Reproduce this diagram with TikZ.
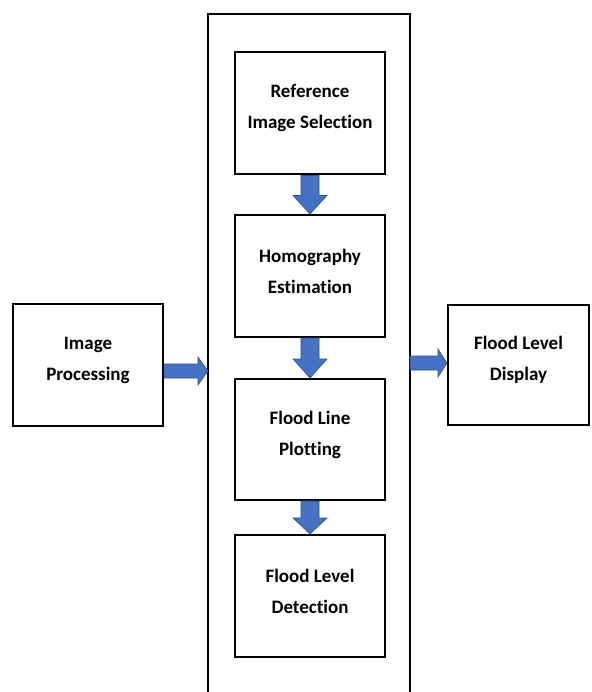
\documentclass[tikz,border=0pt]{standalone}
\usepackage{fontspec}
\setmainfont{Carlito}[Ligatures=NoCommon]
\usetikzlibrary{calc}
\definecolor{arrfill}{HTML}{4472C4}
\definecolor{arrline}{HTML}{2F528F}
\tikzset{
  blk/.style={draw=black, line width=2pt, fill=white, minimum width=150pt, minimum height=122pt, inner sep=0pt},
  lbl/.style={font=\fontsize{19}{31}\selectfont\bfseries, align=center, yshift=5pt, inner sep=0pt},
  barrow/.style={fill=arrfill, draw=arrline, line width=0.6pt, line join=miter},
}
\begin{document}
\begin{tikzpicture}[x=1pt, y=-1pt]
\useasboundingbox (0,0) rectangle (591,692);
% outer container (open at the bottom)
\coordinate (oBL) at (208,692);
\coordinate (oTL) at (208,14);
\coordinate (oTR) at (410,14);
\coordinate (oBR) at (410,692);
\draw[line width=1.6pt] (oBL) -- (oTL) -- (oTR) -- (oBR);
\coordinate (oL) at (208,371);
\coordinate (oR) at (410,363);

\node[blk, label={[lbl]center:Reference\\Image Selection}] (b1) at (310,113.5) {};
\node[blk, label={[lbl]center:Homography\\Estimation}] (b2) at (310,276) {};
\node[blk, minimum height=121pt, label={[lbl]center:Flood Line\\Plotting}] (b3) at (310,439.5) {};
\node[blk, label={[lbl]center:Flood Level\\Detection}] (b4) at (310,596) {};
\node[blk, label={[lbl]center:Image\\Processing}] (ip) at (88,365) {};
\node[blk, minimum width=141pt, minimum height=120pt, label={[lbl]center:Flood Level\\Display}] (fd) at (518.5,365) {};

% vertical block arrows
\foreach \a/\b/\s in {b1/b2/20, b2/b3/21, b3/b4/17}{
  \draw[barrow] ($(\a.south)+(-9,0)$) -- ($(\a.south)+(9,0)$) -- ($(\a.south)+(9,\s)$)
    -- ($(\a.south)+(17,\s)$) -- (\b.north) -- ($(\a.south)+(-17,\s)$)
    -- ($(\a.south)+(-9,\s)$) -- cycle;
}
% left block arrow
\draw[barrow] ($(ip.east |- oL)+(0,-7)$) -- ($(oL)+(-10,-7)$) -- ($(oL)+(-10,-14)$) -- (oL)
  -- ($(oL)+(-10,14)$) -- ($(oL)+(-10,7)$) -- ($(ip.east |- oL)+(0,7)$) -- cycle;
% right block arrow
\draw[barrow] ($(oR)+(0,-7)$) -- ($(fd.west |- oR)+(-9,-7)$) -- ($(fd.west |- oR)+(-9,-14)$) -- (fd.west |- oR)
  -- ($(fd.west |- oR)+(-9,14)$) -- ($(fd.west |- oR)+(-9,7)$) -- ($(oR)+(0,7)$) -- cycle;
\end{tikzpicture}
\end{document}
